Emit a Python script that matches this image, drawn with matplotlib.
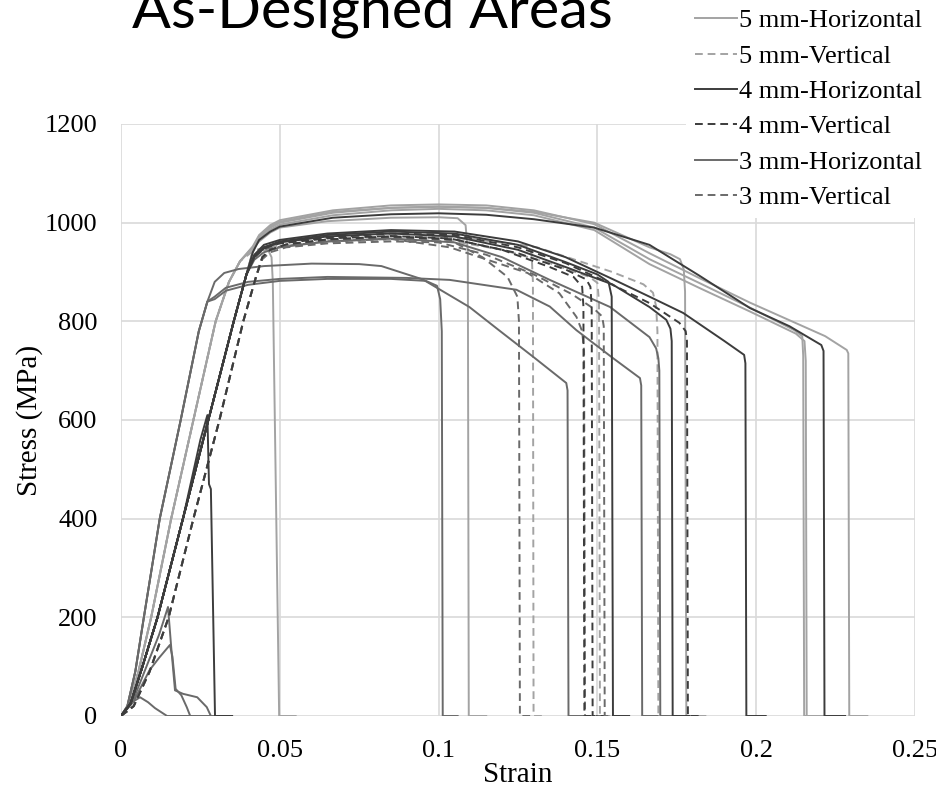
import matplotlib.pyplot as plt
from matplotlib.lines import Line2D

# elastic ramps shared by the specimens (strain, stress in MPa)
ramp_fast_x = [0, 0.002, 0.0045, 0.0072, 0.0122, 0.0188, 0.0245, 0.0272]
ramp_fast_y = [0, 20, 90, 200, 400, 600, 780, 840]
ramp_quick_x = [0, 0.0025, 0.0055, 0.0095, 0.0158, 0.0228, 0.0298, 0.034, 0.0375]
ramp_quick_y = [0, 22, 90, 200, 400, 600, 800, 880, 922]
ramp_mid_x = [0, 0.003, 0.0065, 0.0115, 0.0195, 0.0275, 0.0355, 0.0395]
ramp_mid_y = [0, 25, 95, 200, 400, 600, 800, 895]
ramp_slow_x = [0, 0.004, 0.009, 0.015, 0.0228, 0.031, 0.0385, 0.0425]
ramp_slow_y = [0, 20, 90, 200, 400, 600, 800, 890]

# 5 mm - horizontal
h5_ramp = ["quick", "mid", "quick", "mid", "quick", "mid"]
h5_x = [
    [0.0415, 0.0435, 0.047, 0.05, 0.0667, 0.085, 0.1, 0.115, 0.13, 0.149, 0.1664, 0.182, 0.198, 0.2217, 0.2285, 0.229, 0.2293, 0.235],
    [0.0415, 0.0435, 0.047, 0.05, 0.0667, 0.085, 0.1, 0.115, 0.13, 0.149, 0.1664, 0.182, 0.198, 0.212, 0.2145, 0.2148, 0.2151, 0.221],
    [0.0415, 0.0435, 0.047, 0.05, 0.0667, 0.085, 0.1, 0.115, 0.13, 0.149, 0.1664, 0.182, 0.198, 0.2125, 0.2152, 0.2156, 0.2159, 0.221],
    [0.0415, 0.0435, 0.047, 0.05, 0.0667, 0.085, 0.1, 0.115, 0.13, 0.149, 0.1664, 0.173, 0.176, 0.1772, 0.1776, 0.178, 0.184],
    [0.0415, 0.0435, 0.047, 0.05, 0.065, 0.085, 0.1, 0.106, 0.1085, 0.1092, 0.1095, 0.115],
    [0.0415, 0.0445, 0.0465, 0.0474, 0.0478, 0.0498, 0.055],
]
h5_y = [
    [952, 975, 995, 1005, 1025, 1035, 1037, 1035, 1025, 997, 938, 888, 838, 770, 742, 735, 0, 0],
    [942, 972, 990, 1000, 1020, 1030, 1033, 1030, 1020, 990, 926, 878, 828, 782, 770, 730, 0, 0],
    [950, 968, 986, 996, 1015, 1025, 1028, 1025, 1015, 985, 916, 868, 820, 775, 760, 720, 0, 0],
    [943, 973, 992, 1002, 1022, 1030, 1032, 1030, 1022, 1000, 950, 936, 926, 905, 860, 0, 0],
    [948, 962, 980, 990, 1003, 1010, 1011, 1009, 995, 940, 0, 0],
    [930, 945, 942, 930, 880, 0, 0],
]

# 5 mm - vertical
v5_ramp = ["slow", "quick", "slow"]
v5_x = [
    [0.0445, 0.047, 0.052, 0.065, 0.085, 0.1035, 0.118, 0.1286, 0.1293, 0.1297, 0.1299, 0.134],
    [0.0415, 0.045, 0.052, 0.065, 0.085, 0.105, 0.12, 0.135, 0.1475, 0.15, 0.1505, 0.1508, 0.155],
    [0.0445, 0.047, 0.052, 0.065, 0.085, 0.11, 0.131, 0.1547, 0.1645, 0.1675, 0.1685, 0.1689, 0.1692, 0.174],
]
v5_y = [
    [930, 945, 955, 965, 972, 970, 962, 952, 935, 880, 0, 0],
    [942, 950, 955, 960, 966, 962, 945, 918, 890, 878, 840, 0, 0],
    [930, 945, 955, 966, 972, 968, 950, 900, 875, 858, 830, 780, 0, 0],
]

# 4 mm - horizontal
h4_ramp = ["mid", "mid", "mid", "mid", None]
h4_x = [
    [0.0415, 0.0435, 0.047, 0.05, 0.0667, 0.085, 0.1, 0.115, 0.13, 0.149, 0.1664, 0.182, 0.198, 0.2105, 0.2205, 0.2212, 0.2215, 0.228],
    [0.042, 0.045, 0.05, 0.065, 0.085, 0.105, 0.125, 0.14, 0.155, 0.1664, 0.177, 0.19, 0.1962, 0.1966, 0.1969, 0.203],
    [0.042, 0.045, 0.05, 0.065, 0.085, 0.105, 0.125, 0.14, 0.15, 0.1535, 0.1545, 0.1549, 0.16],
    [0.042, 0.045, 0.05, 0.065, 0.085, 0.105, 0.125, 0.14, 0.1547, 0.1664, 0.1717, 0.173, 0.1734, 0.1737, 0.179],
    [0, 0.003, 0.0065, 0.0115, 0.0195, 0.025, 0.0272, 0.0277, 0.0283, 0.0296, 0.035],
]
h4_y = [
    [940, 965, 982, 992, 1010, 1017, 1019, 1016, 1007, 990, 955, 893, 827, 790, 752, 740, 0, 0],
    [935, 955, 965, 978, 985, 982, 962, 930, 885, 850, 817, 760, 732, 715, 0, 0],
    [932, 950, 962, 975, 982, 978, 955, 920, 895, 880, 850, 0, 0],
    [930, 948, 960, 972, 978, 972, 945, 910, 875, 829, 803, 785, 760, 0, 0],
    [0, 25, 95, 200, 400, 560, 610, 470, 460, 0, 0],
]

# 4 mm - vertical
v4_ramp = ["mid", "slow", "mid"]
v4_x = [
    [0.042, 0.045, 0.05, 0.065, 0.085, 0.1035, 0.12, 0.135, 0.1425, 0.1452, 0.1456, 0.1459, 0.15],
    [0.0445, 0.047, 0.052, 0.065, 0.085, 0.105, 0.125, 0.14, 0.1465, 0.1478, 0.1482, 0.1485, 0.152],
    [0.042, 0.045, 0.05, 0.065, 0.085, 0.105, 0.125, 0.14, 0.1538, 0.1664, 0.1758, 0.1778, 0.1782, 0.1785, 0.183],
]
v4_y = [
    [932, 948, 958, 968, 973, 968, 945, 910, 890, 870, 830, 0, 0],
    [930, 945, 956, 966, 972, 966, 938, 905, 885, 870, 830, 0, 0],
    [934, 950, 960, 970, 978, 975, 950, 918, 877, 837, 797, 780, 760, 0, 0],
]

# 3 mm - horizontal
h3_ramp = ["fast", "fast", "fast", "mid", None, None, None]
h3_x = [
    [0.0295, 0.0325, 0.037, 0.045, 0.06, 0.075, 0.082, 0.095, 0.1097, 0.119, 0.13, 0.1402, 0.1406, 0.1409, 0.146],
    [0.0295, 0.033, 0.04, 0.05, 0.065, 0.09, 0.1035, 0.1245, 0.135, 0.1434, 0.155, 0.1634, 0.1638, 0.1641, 0.169],
    [0.0295, 0.033, 0.04, 0.05, 0.065, 0.085, 0.096, 0.0995, 0.1005, 0.101, 0.1013, 0.106],
    [0.042, 0.045, 0.05, 0.065, 0.085, 0.105, 0.12, 0.135, 0.154, 0.1664, 0.1685, 0.1692, 0.1695, 0.1698, 0.175],
    [0, 0.002, 0.004, 0.006, 0.0085, 0.0107, 0.0145, 0.022],
    [0, 0.004, 0.009, 0.012, 0.0154, 0.0162, 0.0172, 0.019, 0.0207, 0.0218, 0.028],
    [0, 0.004, 0.008, 0.012, 0.0148, 0.0158, 0.017, 0.0195, 0.024, 0.027, 0.0283, 0.034],
]
h3_y = [
    [880, 898, 906, 912, 917, 916, 912, 885, 829, 782, 727, 675, 660, 0, 0],
    [850, 868, 880, 886, 890, 888, 884, 864, 830, 782, 725, 685, 670, 0, 0],
    [845, 862, 874, 882, 886, 886, 882, 872, 845, 780, 0, 0],
    [925, 940, 950, 962, 968, 960, 930, 884, 829, 768, 745, 725, 700, 0, 0],
    [0, 15, 30, 38, 28, 16, 0, 0],
    [0, 30, 93, 118, 144, 120, 55, 42, 18, 0, 0],
    [0, 35, 100, 165, 221, 140, 52, 45, 38, 18, 0, 0],
]

# 3 mm - vertical
v3_ramp = ["slow", "mid", "slow"]
v3_x = [
    [0.0445, 0.047, 0.052, 0.065, 0.085, 0.1035, 0.1138, 0.1217, 0.1248, 0.1253, 0.1256, 0.13],
    [0.042, 0.045, 0.052, 0.065, 0.085, 0.1035, 0.128, 0.138, 0.1434, 0.1452, 0.1458, 0.1461, 0.151],
    [0.0445, 0.047, 0.052, 0.065, 0.085, 0.1, 0.115, 0.13, 0.142, 0.149, 0.1515, 0.152, 0.1523, 0.157],
]
v3_y = [
    [930, 945, 955, 965, 970, 965, 930, 890, 850, 800, 0, 0],
    [930, 946, 953, 962, 967, 950, 898, 857, 809, 780, 740, 0, 0],
    [926, 940, 950, 958, 962, 960, 935, 895, 855, 825, 810, 790, 0, 0],
]

legend_labels = ["5 mm-Horizontal", "5 mm-Vertical", "4 mm-Horizontal",
                 "4 mm-Vertical", "3 mm-Horizontal", "3 mm-Vertical"]

light = "#a3a3a3"
mid = "#6a6a6a"
dark = "#3c3c3c"
dash = (0, (4, 2.5))
lw = 1.4

ramps = {
    "fast": (ramp_fast_x, ramp_fast_y),
    "quick": (ramp_quick_x, ramp_quick_y),
    "mid": (ramp_mid_x, ramp_mid_y),
    "slow": (ramp_slow_x, ramp_slow_y),
    None: ([], []),
}


def draw(ax, keys, xs, ys, color, ls):
    for key, tx, ty in zip(keys, xs, ys):
        rx, ry = ramps[key]
        ax.plot(rx + tx, ry + ty, color=color, ls=ls, lw=lw, solid_joinstyle="round")


fig = plt.figure(figsize=(9.37, 7.91), dpi=100)
ax = fig.add_axes([121 / 937, 75 / 791, 794 / 937, 592 / 791])

draw(ax, h5_ramp, h5_x, h5_y, light, "-")
draw(ax, v5_ramp, v5_x, v5_y, light, dash)
draw(ax, h3_ramp, h3_x, h3_y, mid, "-")
draw(ax, v3_ramp, v3_x, v3_y, mid, dash)
draw(ax, h4_ramp, h4_x, h4_y, dark, "-")
draw(ax, v4_ramp, v4_x, v4_y, dark, dash)

ax.set_xlim(0, 0.25)
ax.set_ylim(0, 1200)
ax.set_xticks([0, 0.05, 0.1, 0.15, 0.2, 0.25])
ax.set_xticklabels(["0", "0.05", "0.1", "0.15", "0.2", "0.25"])
ax.set_yticks(range(0, 1201, 200))
ax.grid(True, color="#d9d9d9", lw=1.2)
ax.set_axisbelow(True)
for s in ax.spines.values():
    s.set_visible(False)
ax.tick_params(length=0, labelsize=19, pad=17)
for lab in ax.get_xticklabels() + ax.get_yticklabels():
    lab.set_fontfamily("Liberation Serif")
ax.set_xlabel("Strain", fontsize=21, family="Liberation Serif", labelpad=0)
ax.set_ylabel("Stress (MPa)", fontsize=21, family="Liberation Serif", labelpad=1)

handles = [
    Line2D([], [], color=light, lw=lw),
    Line2D([], [], color=light, lw=lw, ls=dash),
    Line2D([], [], color=dark, lw=lw),
    Line2D([], [], color=dark, lw=lw, ls=dash),
    Line2D([], [], color=mid, lw=lw),
    Line2D([], [], color=mid, lw=lw, ls=dash),
]
fig.legend(handles, legend_labels, loc="upper left", bbox_to_anchor=(686 / 937, 1.0),
           prop={"family": "Liberation Serif", "size": 19}, frameon=True,
           facecolor="white", edgecolor="none", framealpha=1, borderpad=0.34,
           handlelength=1.6, handletextpad=0.08, labelspacing=0.45, borderaxespad=0)

# title, only the lower part is visible in the source picture
title = fig.text(132 / 937, 1 - 27 / 791, "As-Designed Areas", family="Lato",
                 fontsize=40, va="baseline", ha="left")
fig.canvas.draw()
w = title.get_window_extent().width
title.set_fontsize(40 * 480 / w)

fig.savefig("out.png", dpi=100)
